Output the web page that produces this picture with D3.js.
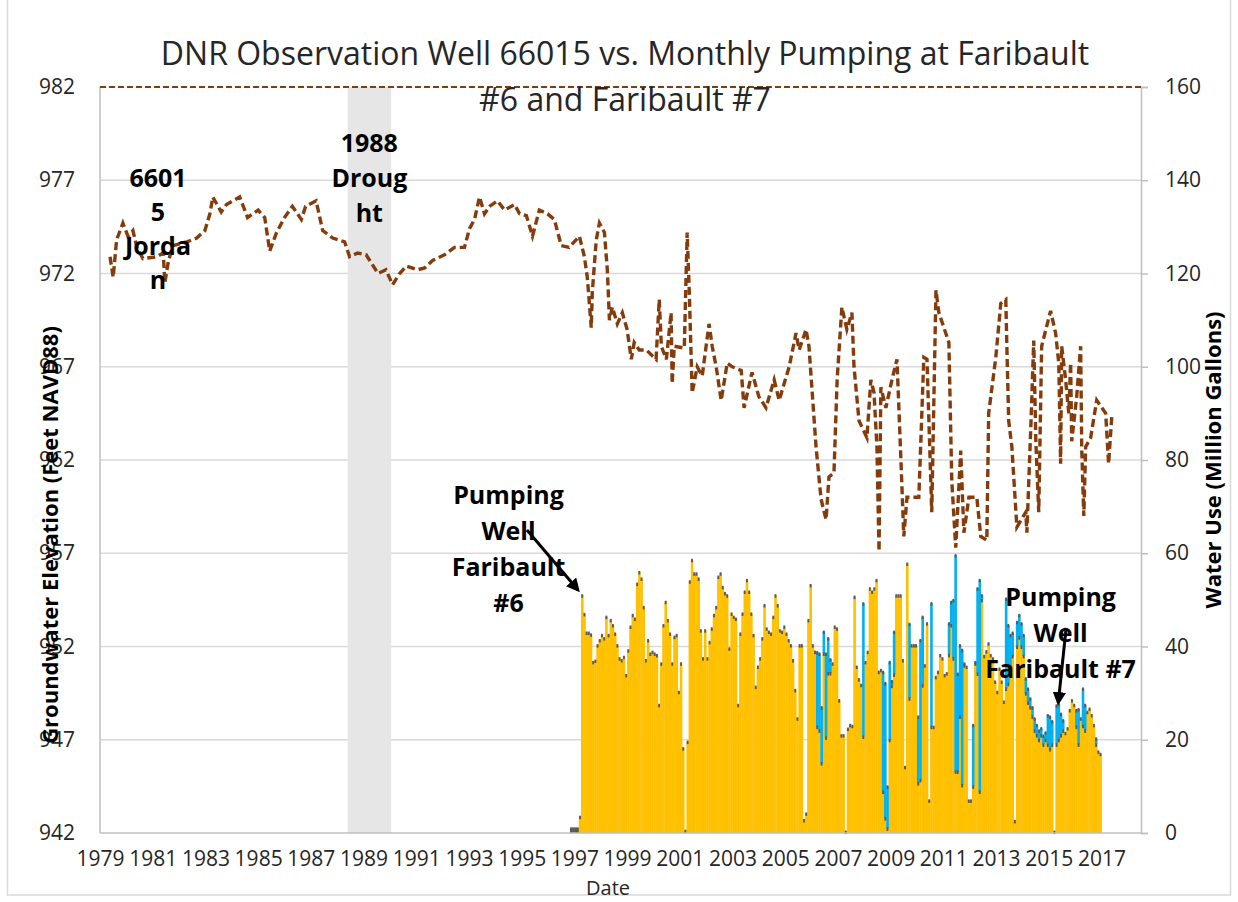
<!DOCTYPE html>
<html>
<head>
<meta charset="utf-8">
<script src="https://cdn.jsdelivr.net/npm/d3@7"></script>
<style>
  body { margin: 0; background: #fff; }
  svg { display: block; }
  text { font-family: 'Open Sans', sans-serif; }
</style>
</head>
<body>
<svg id="chart" width="1238" height="902"></svg>
<script>
// ---- data ----
const yearTicks = [1979, 1981, 1983, 1985, 1987, 1989, 1991, 1993, 1995, 1997,
  1999, 2001, 2003, 2005, 2007, 2009, 2011, 2013, 2015, 2017];
const levelTicks = [942, 947, 952, 957, 962, 967, 972, 977, 982];
const useTicks = [0, 20, 40, 60, 80, 100, 120, 140, 160];

const droughtSpan = [1988.4, 1990.05];
const topLevel = 982;

// observation well 66015 (decimal year, ft NAVD88)
const gwYear = [1979.38, 1979.5, 1979.63, 1979.87, 1980.06, 1980.25, 1980.4, 1980.63, 1981.16, 1981.4,
  1981.46, 1981.6, 1981.77, 1982.3, 1982.67, 1982.98, 1983.17, 1983.28, 1983.6, 1983.8,
  1984.3, 1984.6, 1985.0, 1985.25, 1985.44, 1985.7, 1986.0, 1986.3, 1986.64, 1986.8,
  1987.2, 1987.45, 1987.83, 1988.28, 1988.47, 1988.78, 1989.1, 1989.55, 1989.85, 1990.1,
  1990.37, 1990.63, 1991.05, 1991.32, 1991.62, 1992.07, 1992.45, 1992.83, 1993.02, 1993.21,
  1993.4, 1993.59, 1993.78, 1994.08, 1994.35, 1994.73, 1994.92, 1995.18, 1995.41, 1995.67,
  1995.98, 1996.24, 1996.5, 1996.8, 1997.19, 1997.38, 1997.49, 1997.64, 1997.68, 1997.83,
  1997.95, 1998.14, 1998.25, 1998.33, 1998.44, 1998.63, 1998.82, 1999.0, 1999.16, 1999.27,
  1999.46, 1999.73, 2000.1, 2000.22, 2000.3, 2000.49, 2000.67, 2000.71, 2000.79, 2001.17,
  2001.28, 2001.36, 2001.47, 2001.66, 2001.85, 2002.11, 2002.23, 2002.38, 2002.57, 2002.8,
  2002.99, 2003.33, 2003.44, 2003.74, 2004.0, 2004.27, 2004.58, 2004.77, 2005.15, 2005.41,
  2005.53, 2005.79, 2005.9, 2006.17, 2006.36, 2006.55, 2006.66, 2006.85, 2006.97, 2007.15,
  2007.34, 2007.53, 2007.61, 2007.8, 2008.1, 2008.25, 2008.37, 2008.48, 2008.56, 2008.63,
  2008.82, 2009.05, 2009.24, 2009.39, 2009.5, 2009.62, 2010.07, 2010.26, 2010.38, 2010.56,
  2010.72, 2010.83, 2011.21, 2011.32, 2011.47, 2011.66, 2011.78, 2011.97, 2012.27, 2012.42,
  2012.65, 2012.72, 2012.99, 2013.18, 2013.37, 2013.41, 2013.48, 2013.6, 2013.79, 2014.13,
  2014.17, 2014.32, 2014.43, 2014.51, 2014.62, 2014.73, 2015.07, 2015.26, 2015.38, 2015.45,
  2015.49, 2015.64, 2015.76, 2015.83, 2015.87, 2016.06, 2016.21, 2016.25, 2016.33, 2016.4,
  2016.59, 2016.82, 2017.16, 2017.27, 2017.39];
const gwLevel = [972.9, 971.8, 973.8, 974.7, 974.0, 974.3, 973.4, 972.8, 972.9, 973.1,
  971.5, 972.7, 973.5, 973.7, 973.9, 974.3, 975.2, 976.1, 975.3, 975.7,
  976.1, 975.0, 975.4, 975.0, 973.2, 974.2, 975.0, 975.6, 974.9, 975.6,
  975.9, 974.3, 973.9, 973.7, 972.9, 973.1, 973.0, 972.0, 972.2, 971.4,
  972.0, 972.4, 972.2, 972.3, 972.7, 973.0, 973.4, 973.4, 974.4, 974.9,
  976.1, 975.2, 975.6, 975.9, 975.4, 975.7, 975.2, 975.1, 974.0, 975.4,
  975.2, 974.9, 973.5, 973.4, 974.0, 972.9, 971.8, 969.1, 971.0, 973.8,
  974.7, 974.2, 972.2, 969.5, 970.2, 969.3, 969.9, 969.0, 967.4, 968.3,
  967.9, 967.9, 967.4, 970.6, 968.1, 967.4, 969.9, 966.1, 968.1, 968.0,
  974.2, 971.0, 965.6, 967.0, 966.5, 969.3, 968.1, 967.0, 965.2, 967.2,
  967.0, 966.8, 964.8, 966.7, 965.4, 964.8, 966.3, 965.2, 967.0, 968.8,
  967.9, 969.0, 968.1, 962.7, 959.9, 958.8, 961.1, 961.3, 966.3, 970.2,
  969.0, 969.9, 967.0, 964.1, 963.2, 966.3, 965.6, 962.7, 957.1, 965.9,
  964.8, 966.3, 967.4, 962.0, 957.9, 960.0, 960.0, 967.5, 967.4, 959.2,
  971.1, 969.9, 968.3, 960.9, 957.3, 962.5, 958.1, 960.0, 960.0, 957.9,
  957.7, 964.5, 967.5, 970.4, 970.6, 968.1, 964.1, 962.7, 958.4, 959.2,
  958.1, 963.8, 968.4, 963.0, 959.2, 968.1, 970.0, 968.8, 967.2, 961.8,
  968.1, 966.3, 964.5, 967.2, 963.0, 965.4, 968.1, 962.7, 959.0, 962.7,
  963.2, 965.2, 964.5, 961.8, 964.3];

// monthly pumping, million gallons
const otherStart = 1996 + 10 / 12;           // Nov 1996
const otherPump = [1.2, 1.2, 1.2, 1.2];
const well6Start = 1997 + 2 / 12;            // Mar 1997
const well6 = [
  [3.5, 51, 47, 43, 43, 42.6, 36.7, 37, 40.3, 41.4],
  [42.5, 41.8, 46.4, 42.5, 45.7, 44.6, 42.8, 40.3, 37.5, 37.1, 37.8, 33.9],
  [39.2, 44.3, 46.8, 46, 53.5, 56, 54.6, 48.5, 37.1, 41.4, 38.5, 38.9],
  [38.5, 38.2, 27.5, 36.4, 44.6, 49.6, 45.7, 42.8, 36.4, 42.1, 42.5, 30.3],
  [36.4, 18.2, 0.5, 19.6, 54, 58.6, 55.7, 55.7, 54.6, 43.5, 37.5, 43.5],
  [37.5, 41, 43.9, 46.8, 48.5, 55, 55.7, 52.8, 51.5, 51, 39.6, 47.1],
  [46.4, 46, 27.5, 42.8, 47.1, 51.8, 54.3, 51.8, 47.1, 42.5, 31.4, 35.7],
  [37.5, 41.8, 48.9, 43.9, 43.2, 42.8, 46.4, 51, 48.9, 43.5, 43.2, 44.3],
  [42.8, 41.4, 40.3, 37.1, 30.7, 24.6, 40.3, 40.3, 2.8, 4.2, 45.7, 53.2],
  [40.3, 38.9, 22.8, 22, 15, 38.5, 20.5, 34.3, 34.3, 36.4, 44.3, 43.9],
  [28.5, 21, 21, 0.3, 22.4, 23.2, 23, 50.7, 35.7, 33, 31.8, 20.7],
  [36.7, 38.9, 52.5, 51.8, 52.5, 54.3, 34.6, 35, 8.9, 3.2, 1, 20],
  [31.6, 34, 51, 51, 51, 37.1, 14.2, 57.8, 28.9, 40.3, 40.3, 40.3],
  [10.7, 11.4, 31.7, 36, 45, 7, 22.8, 22.8, 33.5, 34.6, 38.2, 37.5],
  [33.9, 34.3, 38.2, 44.6, 37.5, 13.2, 13.2, 25, 10.3, 36, 35.7, 7],
  [7, 10, 36.4, 34.2, 8.9, 50, 38, 39, 40.7, 38.2, 37.5, 32.5],
  [30.3, 35.3, 32.5, 28.2, 31, 32, 35, 38, 2.6, 40, 42, 40],
  [38, 30, 28, 27, 25, 22, 21, 20, 21, 19, 20, 19],
  [18, 19, 0.3, 19, 20, 21, 22, 21.5, 22.5, 26.4, 28.5, 27.5],
  [22.8, 19, 24.6, 23, 22, 26, 26.7, 25.3, 23.2, 19, 17.5, 17]
].flat();
const well7Start = 2006;                     // Jan 2006
const well7 = [
  [0, 0, 16, 16.5, 12, 4.7, 18, 7.5, 3, 0, 0, 0],
  [0, 0, 0, 0, 0, 0, 0, 0, 0, 0, 0, 28.6],
  [0, 0, 0, 0, 0, 0, 0, 0, 25.7, 29, 9, 16.7],
  [1, 9.2, 0, 0, 0, 0, 0, 0, 16, 0, 0, 0],
  [14.3, 30, 14.7, 0, 0, 0, 26.5, 0, 0, 0, 0, 0],
  [0, 0, 6.8, 5, 12.5, 46.4, 21, 15.3, 29, 0.4, 0, 0],
  [0, 13.2, 0.3, 18.3, 45.4, 1, 0, 0, 0, 0, 0, 0],
  [0, 0, 0, 0, 19.3, 12.6, 7.5, 5, 0, 5.3, 4.8, 5],
  [4.5, 3.2, 3, 1.9, 2, 2.6, 2.2, 2, 1.5, 1.9, 1.6, 6.3],
  [7, 5, 0, 8.4, 7.7, 4.6, 2.2, 0, 0, 0, 0, 0],
  [3.6, 7.6, 0, 8, 5.5, 0, 0, 0, 0, 1.3, 0, 0]
].flat();

// ---- chart ----
const svg = d3.select('#chart');
const plotL = 100, plotR = 1141, plotT = 87, plotB = 833;

const x = d3.scaleLinear().domain([1979, 2018.5]).range([plotL, plotR]);
const yLevel = d3.scaleLinear().domain([942, 982]).range([plotB, plotT]);
const yUse = d3.scaleLinear().domain([0, 160]).range([plotB, plotT]);
const month = 1 / 12;

// figure border
svg.append('rect')
  .attr('x', 7.5).attr('y', -2).attr('width', 1223).attr('height', 897)
  .attr('fill', 'none').attr('stroke', '#d9d9d9').attr('stroke-width', 1.5);

// gridlines
svg.append('g')
  .selectAll('line')
  .data(levelTicks.slice(1, -1))
  .join('line')
  .attr('x1', plotL).attr('x2', plotR)
  .attr('y1', d => yLevel(d)).attr('y2', d => yLevel(d))
  .attr('stroke', '#d9d9d9').attr('stroke-width', 1.5);

// drought band
svg.append('rect')
  .attr('x', x(droughtSpan[0]))
  .attr('width', x(droughtSpan[1]) - x(droughtSpan[0]))
  .attr('y', plotT).attr('height', plotB - plotT)
  .attr('fill', '#e7e6e6');

// monthly pumping table
const months = [];
otherPump.forEach((v, i) => months.push({ t: otherStart + i * month, other: v, w6: 0, w7: 0 }));
well6.forEach((v, i) => {
  const t = well6Start + i * month;
  const j = Math.round((t - well7Start) * 12);
  months.push({ t, other: 0, w6: v, w7: j >= 0 && j < well7.length ? well7[j] : 0 });
});

const barW = x(1980 + month) - x(1980);
const bars = svg.append('g');
bars.selectAll('.other')
  .data(months.filter(d => d.other > 0))
  .join('rect')
  .attr('x', d => x(d.t)).attr('width', barW + 0.4)
  .attr('y', d => yUse(d.other)).attr('height', d => plotB - yUse(d.other))
  .attr('fill', '#595959');
bars.selectAll('.w6')
  .data(months.filter(d => d.w6 > 0))
  .join('rect')
  .attr('x', d => x(d.t)).attr('width', barW + 0.4)
  .attr('y', d => yUse(d.w6)).attr('height', d => plotB - yUse(d.w6))
  .attr('fill', '#ffc000');
bars.selectAll('.w7')
  .data(months.filter(d => d.w7 > 0))
  .join('rect')
  .attr('x', d => x(d.t)).attr('width', barW + 0.4)
  .attr('y', d => yUse(d.w6 + d.w7)).attr('height', d => yUse(d.w6) - yUse(d.w6 + d.w7))
  .attr('fill', '#00b0f0');
// dark caps on each segment top
const caps = [];
months.forEach(d => {
  if (d.w6 > 0) caps.push({ t: d.t, v: d.w6 });
  if (d.w7 > 0) caps.push({ t: d.t, v: d.w6 + d.w7 });
});
bars.selectAll('.cap')
  .data(caps)
  .join('rect')
  .attr('x', d => x(d.t) + 0.3).attr('width', barW - 0.3)
  .attr('y', d => yUse(d.v) - 1).attr('height', 3.5)
  .attr('fill', '#595959');

// axes
const axisColor = '#bfbfbf';
svg.append('line')
  .attr('x1', plotL).attr('x2', plotL).attr('y1', plotT).attr('y2', plotB)
  .attr('stroke', axisColor).attr('stroke-width', 1.5);
svg.append('line')
  .attr('x1', plotL).attr('x2', plotR).attr('y1', plotB).attr('y2', plotB)
  .attr('stroke', axisColor).attr('stroke-width', 1.5);

const gLeft = svg.append('g')
  .attr('transform', `translate(${plotL},0)`)
  .call(d3.axisLeft(yLevel).tickValues(levelTicks).tickSize(0).tickPadding(25));
const gRight = svg.append('g')
  .attr('transform', `translate(${plotR},0)`)
  .call(d3.axisRight(yUse).tickValues(useTicks).tickSize(7).tickPadding(17));
const gBottom = svg.append('g')
  .attr('transform', `translate(0,${plotB})`)
  .call(d3.axisBottom(x).tickValues(yearTicks).tickFormat(d3.format('d')).tickSize(0).tickPadding(18));

[gLeft, gRight, gBottom].forEach(g => {
  g.select('.domain').attr('stroke', axisColor).attr('stroke-width', 1.5);
  g.selectAll('.tick line').attr('stroke', axisColor).attr('stroke-width', 1.5);
  g.selectAll('text').attr('font-size', 21).attr('fill', '#262626')
    .attr('font-family', "'Open Sans', sans-serif");
});
gLeft.select('.domain').remove();
gBottom.select('.domain').remove();

// groundwater line
const gw = gwYear.map((t, i) => ({ t, v: gwLevel[i] }));
svg.append('path')
  .datum(gw)
  .attr('d', d3.line().x(d => x(d.t)).y(d => yLevel(d.v)))
  .attr('fill', 'none')
  .attr('stroke', '#843c0c').attr('stroke-width', 3.4)
  .attr('stroke-dasharray', '8,4');

svg.append('line')
  .attr('x1', plotL).attr('x2', plotR)
  .attr('y1', yLevel(topLevel)).attr('y2', yLevel(topLevel))
  .attr('stroke', '#843c0c').attr('stroke-width', 1.8)
  .attr('stroke-dasharray', '6,3');

// titles
svg.append('text')
  .attr('x', 625).attr('y', 65).attr('text-anchor', 'middle')
  .attr('font-size', 32).attr('fill', '#262626')
  .text('DNR Observation Well 66015 vs. Monthly Pumping at Faribault');
svg.append('text')
  .attr('x', 625).attr('y', 111).attr('text-anchor', 'middle')
  .attr('font-size', 32).attr('fill', '#262626')
  .text('#6 and Faribault #7');

svg.append('text')
  .attr('transform', 'translate(58,535) rotate(-90)')
  .attr('text-anchor', 'middle')
  .attr('font-size', 22).attr('font-weight', 'bold').attr('fill', '#000')
  .text('Groundwater Elevation (Feet NAVD88)');
svg.append('text')
  .attr('transform', 'translate(1221,460) rotate(-90)')
  .attr('text-anchor', 'middle')
  .attr('font-size', 22).attr('font-weight', 'bold').attr('fill', '#000')
  .text('Water Use (Million Gallons)');
svg.append('text')
  .attr('x', 608).attr('y', 895).attr('text-anchor', 'middle')
  .attr('font-size', 20).attr('fill', '#262626')
  .text('Date');

// annotations
function note(lines, cx, y0, dy) {
  const t = svg.append('text')
    .attr('text-anchor', 'middle').attr('font-size', 25)
    .attr('font-weight', 'bold').attr('fill', '#000');
  lines.forEach((s, i) => t.append('tspan').attr('x', cx).attr('y', y0 + i * dy).text(s));
}
note(['6601', '5', 'Jorda', 'n'], x(1981.2), 187, 34);
note(['1988', 'Droug', 'ht'], x(1989.22), 152, 35);
note(['Pumping', 'Well', 'Faribault', '#6'], x(1994.5), 504, 36);
note(['Pumping', 'Well', 'Faribault #7'], x(2015.45), 606, 36);

svg.append('defs').append('marker')
  .attr('id', 'head').attr('viewBox', '0 0 10 10')
  .attr('refX', 8).attr('refY', 5)
  .attr('markerWidth', 4.5).attr('markerHeight', 4.5)
  .attr('orient', 'auto')
  .append('path').attr('d', 'M0,0 L10,5 L0,10 z').attr('fill', '#000');

const arrows = [
  { from: [1995.2, 65], to: [1997.14, 52.1] },
  { from: [2015.66, 44], to: [2015.36, 27.9] }
];
svg.append('g')
  .selectAll('line')
  .data(arrows)
  .join('line')
  .attr('x1', d => x(d.from[0])).attr('y1', d => yUse(d.from[1]))
  .attr('x2', d => x(d.to[0])).attr('y2', d => yUse(d.to[1]))
  .attr('stroke', '#000').attr('stroke-width', 3)
  .attr('marker-end', 'url(#head)');
</script>
</body>
</html>
